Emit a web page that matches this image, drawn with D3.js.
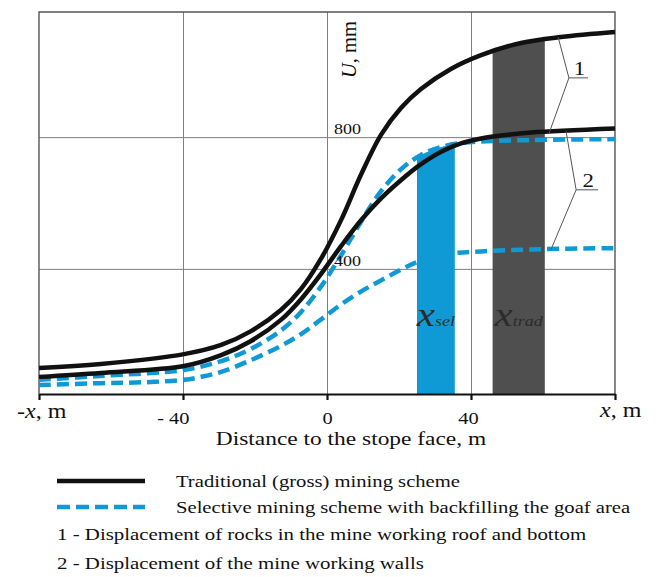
<!DOCTYPE html>
<html>
<head>
<meta charset="utf-8">
<script src="https://cdn.jsdelivr.net/npm/d3@7"></script>
<style>
    body { margin: 0; background: #fff; }
    svg, svg text { font-family: "Liberation Serif", "Times New Roman", serif; }
    .grid line { stroke: #7d7d7d; stroke-width: 1; }
    .grid path { display: none; }
</style>
</head>
<body>
<svg id="chart" width="660" height="577" font-family="Liberation Serif, serif"></svg>
<script>
;(function () {
    "use strict";

    // distance to the stope face, m
    var xTicks = [-80, -40, 0, 40, 80];
    var xTickLabels = ["", "- 40", "0", "40", ""];
    // displacement U, mm
    var yTicks = [400, 800];

    // 1 - roof and bottom, 2 - walls ([distance, U])
    var tradRoof = [[-80, 99], [-62.8, 111], [-39.7, 141], [-29.4, 169], [-21.1, 211], [-12.8, 275],
        [-7.2, 339], [-1.7, 430], [3.9, 548], [9.4, 685], [15, 807], [20.6, 889], [26.1, 946],
        [34.4, 1007], [42.8, 1049], [53.9, 1086], [65, 1104], [80, 1119]];
    var tradWalls = [[-80, 72], [-62.8, 84], [-39.7, 105], [-29.4, 138], [-21.1, 181], [-12.8, 245],
        [-7.2, 308], [-1.7, 384], [3.9, 469], [9.4, 547], [15, 614], [20.6, 670], [26.1, 718],
        [31.7, 756], [37.2, 781], [42.8, 796], [48.3, 805], [56.7, 814], [80, 826]];
    var selRoof = [[-80, 63], [-62.8, 75], [-39.7, 93], [-29.4, 120], [-21.1, 157], [-12.8, 213],
        [-7.2, 269], [-1.7, 346], [3.9, 441], [9.4, 542], [15, 636], [20.6, 703], [26.1, 746],
        [31.7, 770], [37.2, 782], [42.8, 787], [56.7, 791], [80, 794]];
    var selWalls = [[-80, 47], [-62.8, 53], [-50, 56], [-39.7, 63], [-35, 72], [-29.4, 87],
        [-21.1, 123], [-12.8, 166], [-7.2, 202], [-1.7, 246], [3.9, 292], [9.4, 331], [15, 365],
        [20.6, 398], [26.1, 425], [35.8, 448], [42.8, 453], [56.7, 459], [80, 463]];

    var selZone = [25, 35.5];
    var tradZone = [46, 60.5];

    var legendLines = ["Traditional (gross) mining scheme",
        "Selective mining scheme with backfilling the goaf area"];
    var legendNotes = ["1 - Displacement of rocks in the mine working roof and bottom",
        "2 - Displacement of the mine working walls"];

    var black = "#111", blue = "#0f9ad6", grey = "#4f4f4f";
    var left = 39, right = 615, top = 12, bottom = 394;
    var stretch = 1.2; // the source figure is a bit wider than Times

    var svg = d3.select("#chart");
    svg.append("rect").attr("width", 660).attr("height", 577).attr("fill", "#fff");

    var x = d3.scaleLinear().domain([-80, 80]).range([left, right]);
    var y = d3.scaleLinear().domain([20, 1180]).range([bottom, top]);

    var line = d3.line()
        .x(function (d) { return x(d[0]); })
        .y(function (d) { return y(d[1]); })
        .curve(d3.curveCatmullRom.alpha(0.5));
    var area = d3.area()
        .x(function (d) { return x(d[0]); })
        .y0(bottom)
        .y1(function (d) { return y(d[1]); })
        .curve(d3.curveCatmullRom.alpha(0.5));

    // grid
    svg.append("g").attr("class", "grid")
        .attr("transform", "translate(0," + bottom + ")")
        .call(d3.axisBottom(x).tickValues([-40, 0, 40]).tickSize(-(bottom - top)).tickFormat(""));
    svg.append("g").attr("class", "grid")
        .attr("transform", "translate(" + left + ",0)")
        .call(d3.axisLeft(y).tickValues(yTicks).tickSize(-(right - left)).tickFormat(""));
    svg.append("path")
        .attr("d", "M" + left + "," + bottom + "V" + top + "H" + right + "V" + bottom)
        .attr("fill", "none").attr("stroke", "#555").attr("stroke-width", 1.4);

    // zones under the curves
    function zone(id, range, data, color) {
        svg.append("clipPath").attr("id", id).append("rect")
            .attr("x", x(range[0])).attr("y", top)
            .attr("width", x(range[1]) - x(range[0])).attr("height", bottom - top);
        svg.append("path").datum(data).attr("d", area)
            .attr("fill", color).attr("clip-path", "url(#" + id + ")");
    }
    zone("clipTrad", tradZone, tradRoof, grey);

    // selective scheme, dashed
    [selRoof, selWalls].forEach(function (s) {
        svg.append("path").datum(s).attr("d", line)
            .attr("fill", "none").attr("stroke", blue)
            .attr("stroke-width", 4.5).attr("stroke-dasharray", "12,6");
    });
    zone("clipSel", selZone, selRoof, blue);

    // traditional scheme, solid
    [tradRoof, tradWalls].forEach(function (s) {
        svg.append("path").datum(s).attr("d", line)
            .attr("fill", "none").attr("stroke", black).attr("stroke-width", 4.5);
    });

    // zone labels
    function zoneLabel(range, sub) {
        var t = svg.append("text").attr("class", "wide")
            .attr("x", x((range[0] + range[1]) / 2)).attr("y", 326)
            .attr("text-anchor", "middle").attr("fill", "#2b2b2b")
            .attr("font-style", "italic");
        t.append("tspan").attr("font-size", 34).text("x");
        t.append("tspan").attr("font-size", 15).text(sub);
    }
    zoneLabel(selZone, "sel");
    zoneLabel(tradZone, "trad");

    // x axis
    var xAxis = svg.append("g")
        .attr("transform", "translate(0," + bottom + ")")
        .call(d3.axisBottom(x).tickValues(xTicks).tickSize(6).tickSizeOuter(0)
            .tickFormat(function (d, i) { return xTickLabels[i]; }));
    xAxis.select(".domain").attr("stroke", black).attr("stroke-width", 2.2);
    xAxis.selectAll(".tick line").attr("stroke", black).attr("stroke-width", 2.2);
    xAxis.selectAll(".tick text")
        .attr("class", "wide")
        .attr("y", 18).attr("fill", black)
        .attr("font-family", "Liberation Serif, serif").attr("font-size", 17);
    xAxis.selectAll(".tick text").filter(function (d) { return d === -40; })
        .attr("text-anchor", "end").attr("dx", 6);
    xAxis.selectAll(".tick text").filter(function (d) { return d === 40; })
        .attr("dx", -3);

    function endLabel(px, py, sign) {
        var t = svg.append("text").attr("class", "wide").attr("x", px).attr("y", py)
            .attr("font-size", 20).attr("fill", black);
        if (sign) t.append("tspan").text(sign);
        t.append("tspan").attr("font-style", "italic").text("x");
        t.append("tspan").text(", m");
    }
    endLabel(x(-80) - 22, 418, "-");
    endLabel(x(80) - 15, 417, "");

    svg.append("text").attr("class", "wide")
        .attr("x", 351).attr("y", 445).attr("text-anchor", "middle")
        .attr("font-size", 19.5).attr("fill", black)
        .text("Distance to the stope face, m");

    // y labels
    yTicks.forEach(function (v) {
        svg.append("text").attr("class", "wide")
            .attr("x", x(0) + 7).attr("y", y(v) - 3)
            .attr("font-size", 15).attr("fill", black).text(v);
    });
    var yTitle = svg.append("text")
        .attr("transform", "translate(" + (x(0) + 29) + "," + 78 + ") rotate(-90)")
        .attr("font-size", 20.5).attr("fill", black);
    yTitle.append("tspan").attr("font-style", "italic").text("U");
    yTitle.append("tspan").text(", mm");

    // leader lines
    function leader(label, a, knee, end, b) {
        svg.append("path")
            .attr("d", d3.line()([[x(a[0]), y(a[1])], [x(knee[0]), y(knee[1])], [x(end), y(knee[1])]]))
            .attr("fill", "none").attr("stroke", "#555").attr("stroke-width", 1);
        svg.append("line")
            .attr("x1", x(knee[0])).attr("y1", y(knee[1]))
            .attr("x2", x(b[0])).attr("y2", y(b[1]))
            .attr("stroke", "#555").attr("stroke-width", 1);
        svg.append("text").attr("class", "wide")
            .attr("x", (x(knee[0]) + x(end)) / 2 + 1).attr("y", y(knee[1]) - 3)
            .attr("text-anchor", "middle").attr("font-size", 19).attr("fill", black)
            .text(label);
    }
    leader("1", [64.2, 1104], [67.2, 980], 72.5, [61.7, 812]);
    leader("2", [66.4, 818], [69.2, 640], 75.3, [62.2, 458]);

    // legend
    var lg = svg.append("g");
    lg.append("line").attr("x1", 57).attr("x2", 145).attr("y1", 481).attr("y2", 481)
        .attr("stroke", black).attr("stroke-width", 4.5);
    lg.append("line").attr("x1", 57).attr("x2", 145).attr("y1", 507).attr("y2", 507)
        .attr("stroke", blue).attr("stroke-width", 4.5).attr("stroke-dasharray", "13,6");
    legendLines.forEach(function (s, i) {
        lg.append("text").attr("class", "wide").attr("x", 176).attr("y", 487 + i * 26)
            .attr("font-size", 17.2).attr("fill", black).text(s);
    });
    legendNotes.forEach(function (s, i) {
        lg.append("text").attr("class", "wide").attr("x", 57).attr("y", 540 + i * 29)
            .attr("font-size", 17.4).attr("fill", black).text(s);
    });

    // widen the texts like in the source figure
    svg.selectAll("text.wide").each(function () {
        var w = this.getComputedTextLength();
        d3.select(this).attr("textLength", w * stretch).attr("lengthAdjust", "spacingAndGlyphs");
    });
}());
</script>
</body>
</html>
